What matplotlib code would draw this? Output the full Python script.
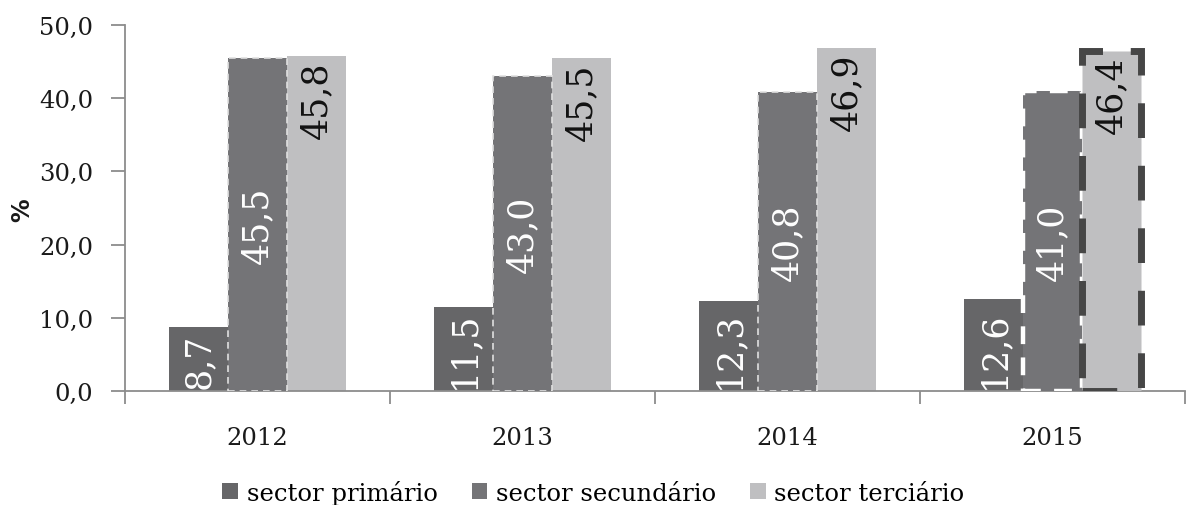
import matplotlib
matplotlib.use("Agg")
import matplotlib.pyplot as plt
import numpy as np
from matplotlib.patches import Patch

years = ["2012", "2013", "2014", "2015"]
primario = [8.7, 11.5, 12.3, 12.6]
secundario = [45.5, 43.0, 40.8, 41.0]
terciario = [45.8, 45.5, 46.9, 46.4]
series_names = ["sector primário", "sector secundário", "sector terciário"]
yticks = [0, 10, 20, 30, 40, 50]

def fmt(v):
    return f"{v:.1f}".replace(".", ",")

plt.rcParams['font.family'] = ['DejaVu Serif']
fig = plt.figure(figsize=(11.87, 5.06), dpi=100)
ax = fig.add_axes([0.1053, 0.2253, 0.893, 0.7233])

x = np.arange(len(years))
w = 0.222
c_p, c_s, c_t = "#666668", "#747477", "#bfbfc1"

bp = ax.bar(x - w, primario, w, color=c_p, linewidth=0, zorder=2)
bs = ax.bar(x, secundario, w, color=c_s, edgecolor="#e0e0e0", linewidth=1.2,
            linestyle=(0, (4, 3)), zorder=3)
bt = ax.bar(x + w, terciario, w, color=c_t, linewidth=0, zorder=2)

# special 2015 styling
bs[3].set_linewidth(3.2)
bs[3].set_edgecolor("#ffffff")
bs[3].set_linestyle((0, (4, 3)))
bt[3].set_edgecolor("#464646")
bt[3].set_linewidth(5)
bt[3].set_linestyle((0, (5, 4)))
bt[3].set_zorder(4)

lfs = 25
for i in range(len(years)):
    ax.text(x[i] - w, 0.4, fmt(primario[i]), rotation=90, ha="center", va="bottom",
            color="white", fontsize=lfs, zorder=5)
    ax.text(x[i], secundario[i] / 2, fmt(secundario[i]), rotation=90, ha="center",
            va="center", color="white", fontsize=lfs, zorder=5)
    ax.text(x[i] + w, terciario[i] - 0.6, fmt(terciario[i]), rotation=90, ha="center",
            va="top", color="#111111", fontsize=lfs, zorder=5)

ax.set_xlim(-0.5, 3.5)
ax.set_ylim(0, 50)
ax.set_yticks(yticks)
ax.set_yticklabels([fmt(v) for v in yticks], fontsize=17.5)
ax.set_xticks(x)
ax.set_xticklabels(years, fontsize=17.5)
ax.set_xticks(np.arange(-0.5, 4.0, 1.0), minor=True)
ax.tick_params(axis="x", which="major", length=0, pad=25, colors="#1a1a1a")
ax.tick_params(axis="x", which="minor", length=9, width=1.3, color="#8c8c8c")
ax.tick_params(axis="y", length=10, width=1.3, color="#8c8c8c", pad=13, labelcolor="#1a1a1a")

for s in ["top", "right"]:
    ax.spines[s].set_visible(False)
for s in ["left", "bottom"]:
    ax.spines[s].set_color("#8c8c8c")
    ax.spines[s].set_linewidth(1.3)

fig.text(0.019, 0.585, "%", rotation=90, ha="center", va="center",
         fontsize=17, fontweight="bold", family="DejaVu Sans", color="#1a1a1a")

handles = [Patch(facecolor=c_p, edgecolor="none"),
           Patch(facecolor=c_s, edgecolor="none"),
           Patch(facecolor=c_t, edgecolor="none")]
fig.legend(handles, series_names, loc="center", bbox_to_anchor=(0.5, 0.025),
           ncol=3, frameon=False, fontsize=17.5, handlelength=0.65, handleheight=0.65,
           handletextpad=0.35, columnspacing=1.4, borderaxespad=0)

fig.savefig("out.png", dpi=100)
